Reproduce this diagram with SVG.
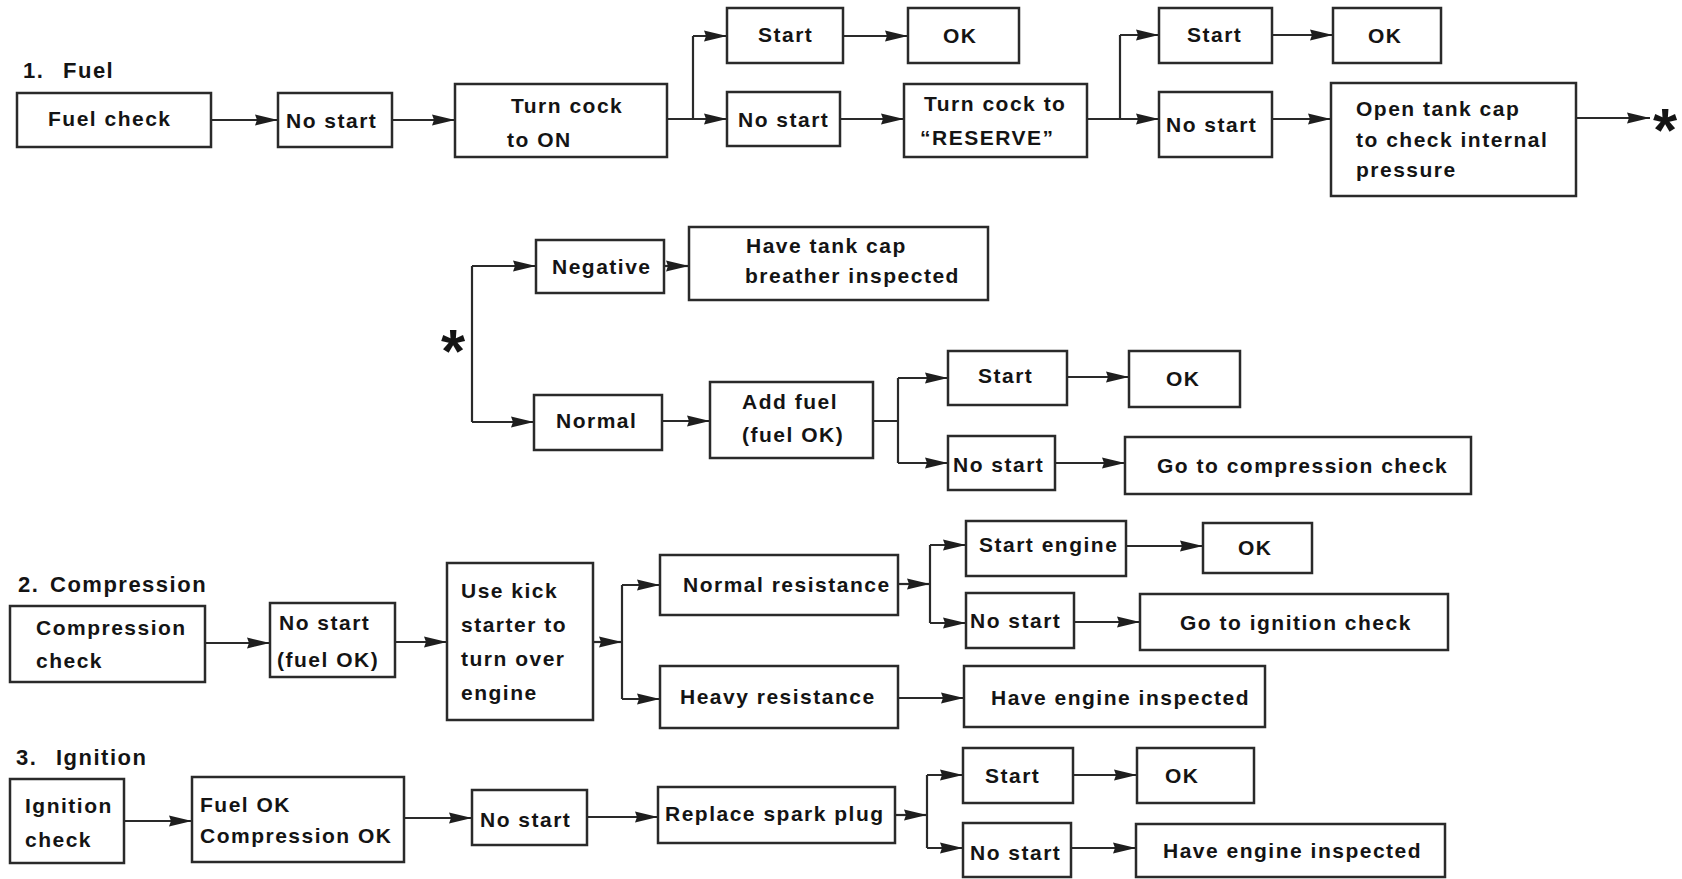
<svg xmlns="http://www.w3.org/2000/svg" width="1682" height="879" viewBox="0 0 1682 879">
<style>
.bx{fill:#fff;stroke:#2a2a2a;stroke-width:2.5}
.t{font-family:"Liberation Sans",Arial,sans-serif;font-weight:bold;font-size:21px;letter-spacing:1.5px;fill:#141414}
.h{font-family:"Liberation Sans",Arial,sans-serif;font-weight:bold;font-size:22px;letter-spacing:1.5px;fill:#141414}
.ast{font-family:"Liberation Sans",Arial,sans-serif;font-weight:bold;font-size:62px;fill:#141414;text-anchor:middle}
.c{fill:none;stroke:#2a2a2a;stroke-width:2.2}
.a{fill:none;stroke:#2a2a2a;stroke-width:2.2;marker-end:url(#ah)}
</style>
<defs>
<marker id="ah" markerUnits="userSpaceOnUse" markerWidth="24" markerHeight="12" refX="23" refY="6" orient="auto">
<path d="M0,0.5 L23,6 L0,11.5 L2,6 z" fill="#1e1e1e"/>
</marker>
</defs>
<rect x="0" y="0" width="1682" height="879" fill="#fff"/>

<g id="headers">
<text class="h" x="23" y="78">1.<tspan x="63">Fuel</tspan></text>
<text class="h" x="18" y="592">2.<tspan x="50">Compression</tspan></text>
<text class="h" x="16" y="765">3.<tspan x="56">Ignition</tspan></text>
</g>

<g id="connectors">
<path class="a" d="M211,120 H278"/>
<path class="a" d="M392,120 H455"/>
<path class="c" d="M667,119 H693 M693,36 V119"/>
<path class="a" d="M693,36 H727"/>
<path class="a" d="M693,119 H727"/>
<path class="a" d="M843,36 H908"/>
<path class="a" d="M840,119 H904"/>
<path class="c" d="M1087,119 H1120 M1120,35 V119"/>
<path class="a" d="M1120,35 H1159"/>
<path class="a" d="M1120,119 H1159"/>
<path class="a" d="M1272,35 H1333"/>
<path class="a" d="M1272,119 H1331"/>
<path class="a" d="M1576,118 H1650"/>

<path class="c" d="M472,266 V422"/>
<path class="a" d="M472,266 H536"/>
<path class="a" d="M472,422 H534"/>
<path class="a" d="M664,266 H689"/>
<path class="a" d="M662,421 H710"/>
<path class="c" d="M873,421 H898 M898,378 V463"/>
<path class="a" d="M898,378 H948"/>
<path class="a" d="M898,463 H948"/>
<path class="a" d="M1067,377 H1129"/>
<path class="a" d="M1055,463 H1125"/>

<path class="a" d="M205,643 H270"/>
<path class="a" d="M395,642 H447"/>
<path class="a" d="M593,642 H622"/>
<path class="c" d="M622,585 V699"/>
<path class="a" d="M622,585 H660"/>
<path class="a" d="M622,699 H660"/>
<path class="a" d="M898,584 H930"/>
<path class="c" d="M930,545 V623"/>
<path class="a" d="M930,545 H966"/>
<path class="a" d="M930,623 H966"/>
<path class="a" d="M1126,546 H1203"/>
<path class="a" d="M1074,622 H1140"/>
<path class="a" d="M898,698 H964"/>

<path class="a" d="M124,821 H192"/>
<path class="a" d="M404,818 H472"/>
<path class="a" d="M587,817 H658"/>
<path class="a" d="M895,815 H927"/>
<path class="c" d="M927,775 V848"/>
<path class="a" d="M927,775 H963"/>
<path class="a" d="M927,848 H963"/>
<path class="a" d="M1073,775 H1137"/>
<path class="a" d="M1071,848 H1136"/>
</g>

<g id="fuel-check"><rect class="bx" x="17" y="93" width="194" height="54"/><text class="t" x="48" y="126">Fuel check</text></g>
<g id="fuel-nostart1"><rect class="bx" x="278" y="93" width="114" height="54"/><text class="t" x="286" y="128">No start</text></g>
<g id="turn-cock-on"><rect class="bx" x="455" y="84" width="212" height="73"/><text class="t" x="511" y="113">Turn cock</text><text class="t" x="507" y="147">to ON</text></g>
<g id="fuel-start1"><rect class="bx" x="727" y="8" width="116" height="55"/><text class="t" x="758" y="42">Start</text></g>
<g id="fuel-ok1"><rect class="bx" x="908" y="8" width="111" height="55"/><text class="t" x="943" y="43">OK</text></g>
<g id="fuel-nostart2"><rect class="bx" x="727" y="92" width="113" height="54"/><text class="t" x="738" y="127">No start</text></g>
<g id="turn-cock-reserve"><rect class="bx" x="904" y="84" width="183" height="73"/><text class="t" x="924" y="111">Turn cock to</text><text class="t" x="920" y="145">“RESERVE”</text></g>
<g id="fuel-start2"><rect class="bx" x="1159" y="8" width="113" height="55"/><text class="t" x="1187" y="42">Start</text></g>
<g id="fuel-ok2"><rect class="bx" x="1333" y="8" width="108" height="55"/><text class="t" x="1368" y="43">OK</text></g>
<g id="fuel-nostart3"><rect class="bx" x="1159" y="92" width="113" height="65"/><text class="t" x="1166" y="132">No start</text></g>
<g id="open-tank-cap"><rect class="bx" x="1331" y="83" width="245" height="113"/><text class="t" x="1356" y="116">Open tank cap</text><text class="t" x="1356" y="147">to check internal</text><text class="t" x="1356" y="177">pressure</text></g>
<g id="star-out"><text class="ast" x="1665" y="151">*</text></g>

<g id="star-in"><text class="ast" x="453" y="372">*</text></g>
<g id="negative"><rect class="bx" x="536" y="240" width="128" height="53"/><text class="t" x="552" y="274">Negative</text></g>
<g id="breather"><rect class="bx" x="689" y="227" width="299" height="73"/><text class="t" x="746" y="253">Have tank cap</text><text class="t" x="745" y="283">breather inspected</text></g>
<g id="normal"><rect class="bx" x="534" y="395" width="128" height="55"/><text class="t" x="556" y="428">Normal</text></g>
<g id="add-fuel"><rect class="bx" x="710" y="382" width="163" height="76"/><text class="t" x="742" y="409">Add fuel</text><text class="t" x="742" y="442">(fuel OK)</text></g>
<g id="fuel-start3"><rect class="bx" x="948" y="351" width="119" height="54"/><text class="t" x="978" y="383">Start</text></g>
<g id="fuel-ok3"><rect class="bx" x="1129" y="351" width="111" height="56"/><text class="t" x="1166" y="386">OK</text></g>
<g id="fuel-nostart4"><rect class="bx" x="948" y="436" width="107" height="54"/><text class="t" x="953" y="472">No start</text></g>
<g id="goto-compression"><rect class="bx" x="1125" y="437" width="346" height="57"/><text class="t" x="1157" y="473">Go to compression check</text></g>

<g id="compression-check"><rect class="bx" x="10" y="606" width="195" height="76"/><text class="t" x="36" y="635">Compression</text><text class="t" x="36" y="668">check</text></g>
<g id="comp-nostart"><rect class="bx" x="270" y="603" width="125" height="74"/><text class="t" x="279" y="630">No start</text><text class="t" x="277" y="667">(fuel OK)</text></g>
<g id="kick-starter"><rect class="bx" x="447" y="563" width="146" height="157"/><text class="t" x="461" y="598">Use kick</text><text class="t" x="461" y="632">starter to</text><text class="t" x="461" y="666">turn over</text><text class="t" x="461" y="700">engine</text></g>
<g id="normal-resistance"><rect class="bx" x="660" y="555" width="238" height="60"/><text class="t" x="683" y="592">Normal resistance</text></g>
<g id="heavy-resistance"><rect class="bx" x="660" y="666" width="238" height="62"/><text class="t" x="680" y="704">Heavy resistance</text></g>
<g id="start-engine"><rect class="bx" x="966" y="521" width="160" height="55"/><text class="t" x="979" y="552">Start engine</text></g>
<g id="comp-ok"><rect class="bx" x="1203" y="523" width="109" height="50"/><text class="t" x="1238" y="555">OK</text></g>
<g id="comp-nostart2"><rect class="bx" x="966" y="593" width="108" height="55"/><text class="t" x="970" y="628">No start</text></g>
<g id="goto-ignition"><rect class="bx" x="1140" y="594" width="308" height="56"/><text class="t" x="1180" y="630">Go to ignition check</text></g>
<g id="engine-inspected1"><rect class="bx" x="964" y="666" width="301" height="61"/><text class="t" x="991" y="705">Have engine inspected</text></g>

<g id="ignition-check"><rect class="bx" x="10" y="779" width="114" height="84"/><text class="t" x="25" y="813">Ignition</text><text class="t" x="25" y="847">check</text></g>
<g id="fuel-comp-ok"><rect class="bx" x="192" y="777" width="212" height="85"/><text class="t" x="200" y="812">Fuel OK</text><text class="t" x="200" y="843">Compression OK</text></g>
<g id="ign-nostart"><rect class="bx" x="472" y="790" width="115" height="55"/><text class="t" x="480" y="827">No start</text></g>
<g id="spark-plug"><rect class="bx" x="658" y="787" width="237" height="56"/><text class="t" x="665" y="821">Replace spark plug</text></g>
<g id="ign-start"><rect class="bx" x="963" y="748" width="110" height="55"/><text class="t" x="985" y="783">Start</text></g>
<g id="ign-ok"><rect class="bx" x="1137" y="748" width="117" height="55"/><text class="t" x="1165" y="783">OK</text></g>
<g id="ign-nostart2"><rect class="bx" x="963" y="823" width="108" height="54"/><text class="t" x="970" y="860">No start</text></g>
<g id="engine-inspected2"><rect class="bx" x="1136" y="824" width="309" height="53"/><text class="t" x="1163" y="858">Have engine inspected</text></g>
</svg>
